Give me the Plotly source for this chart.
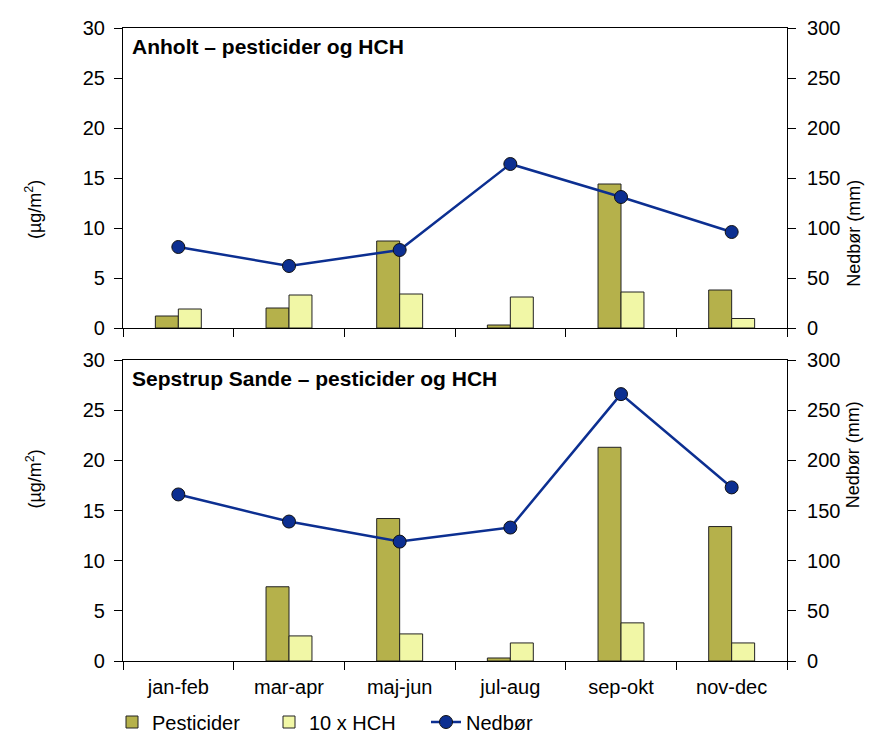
import plotly.graph_objects as go
from plotly.subplots import make_subplots

periods = ["jan-feb", "mar-apr", "maj-jun", "jul-aug", "sep-okt", "nov-dec"]

# Anholt
anholt_pest = [1.2, 2.0, 8.7, 0.3, 14.4, 3.8]
anholt_hch10 = [1.9, 3.3, 3.4, 3.1, 3.6, 0.95]
anholt_rain = [81, 62, 78, 164, 131, 96]

# Sepstrup Sande (no sample jan-feb)
sepstrup_pest = [None, 7.4, 14.2, 0.3, 21.3, 13.4]
sepstrup_hch10 = [None, 2.5, 2.7, 1.8, 3.8, 1.8]
sepstrup_rain = [166, 139, 119, 133, 266, 173]

panel_titles = ["Anholt – pesticider og HCH", "Sepstrup Sande – pesticider og HCH"]

PEST_COL = "#b5b14b"
HCH_COL = "#f1f7a6"
RAIN_COL = "#0c2f91"
FONT = "Liberation Sans, Arial, sans-serif"

W, H = 868, 728

fig = make_subplots(rows=2, cols=1, shared_xaxes=True,
                    specs=[[{"secondary_y": True}], [{"secondary_y": True}]])

data = [(anholt_pest, anholt_hch10, anholt_rain), (sepstrup_pest, sepstrup_hch10, sepstrup_rain)]
for i, (pest, hch, rain) in enumerate(data):
    row = i + 1
    first = i == 0
    fig.add_trace(go.Bar(x=periods, y=pest, name="Pesticider", marker_color=PEST_COL,
                         marker_line=dict(color="#222", width=1), showlegend=first,
                         legendgroup="p"), row=row, col=1, secondary_y=False)
    fig.add_trace(go.Bar(x=periods, y=hch, name="10 x HCH", marker_color=HCH_COL,
                         marker_line=dict(color="#222", width=1), showlegend=first,
                         legendgroup="h"), row=row, col=1, secondary_y=False)
    fig.add_trace(go.Scatter(x=periods, y=rain, name="Nedbør", mode="lines+markers",
                             line=dict(color=RAIN_COL, width=2.5),
                             marker=dict(size=13, color=RAIN_COL, line=dict(color="#111", width=1)),
                             showlegend=first, legendgroup="n"),
                  row=row, col=1, secondary_y=True)

# panel domains (pixel based on a 633 px high plot area)
top_dom = [333 / 633, 1.0]
bot_dom = [0.0, 301 / 633]

axis_common = dict(showline=True, linecolor="black", linewidth=1.2, ticks="outside",
                   ticklen=8, tickcolor="black", showgrid=False, zeroline=False,
                   automargin=False, tickfont=dict(size=20, color="black"))

fig.update_layout(
    width=W, height=H,
    margin=dict(l=115, r=89, t=20, b=75, autoexpand=False),
    plot_bgcolor="white", paper_bgcolor="white",
    font=dict(family=FONT, color="black"),
    barmode="group", bargap=0.585, bargroupgap=0,
    legend=dict(orientation="h", xref="container", yref="container",
                x=104 / W, xanchor="left", y=1 - 714 / H, yanchor="middle",
                font=dict(size=20), entrywidth=112, itemwidth=30, traceorder="normal"),
)

fig.update_xaxes(axis_common, tickson="boundaries", mirror=True, domain=[0, 1],
                 ticklabelstandoff=8)
fig.update_xaxes(showticklabels=False, row=1, col=1)
fig.update_yaxes(axis_common, range=[0, 30], dtick=5, ticklabelstandoff=5, secondary_y=False)
fig.update_yaxes(axis_common, range=[0, 300], dtick=50, ticklabelstandoff=7, secondary_y=True)

fig.layout.yaxis.domain = top_dom
fig.layout.yaxis2.domain = top_dom
fig.layout.yaxis3.domain = bot_dom
fig.layout.yaxis4.domain = bot_dom

for dom, title in zip([top_dom, bot_dom], panel_titles):
    fig.add_annotation(text="<b>%s</b>" % title, xref="paper", yref="paper",
                       x=0.01, y=dom[1] - 0.008, xanchor="left", yanchor="top",
                       showarrow=False, font=dict(size=21, color="black"))
    mid = (dom[0] + dom[1]) / 2
    fig.add_annotation(text="(µg/m<sup>2</sup>)", xref="paper", yref="paper",
                       x=-0.155, y=mid, textangle=-90, showarrow=False,
                       font=dict(size=18, color="black"))
    fig.add_annotation(text="Nedbør (mm)", xref="paper", yref="paper",
                       x=1.118, y=mid, textangle=-90, showarrow=False,
                       font=dict(size=18, color="black"))

fig.write_html("out.html")
